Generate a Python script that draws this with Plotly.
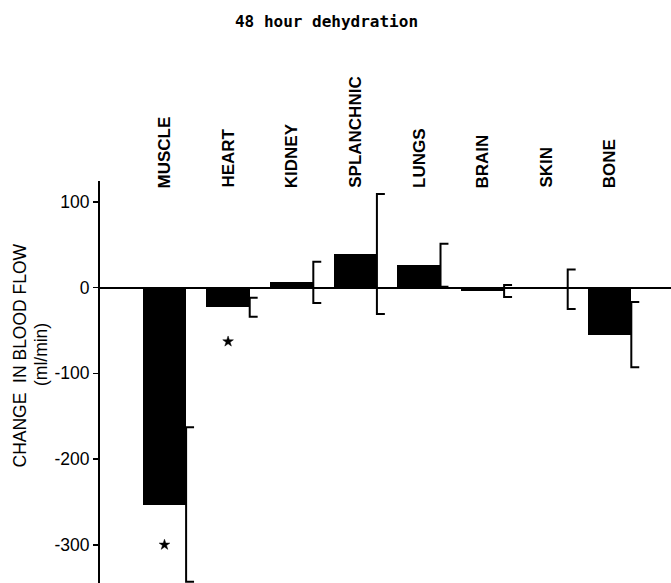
import plotly.graph_objects as go

# ---- data ----
categories = ["MUSCLE", "HEART", "KIDNEY", "SPLANCHNIC", "LUNGS", "BRAIN", "SKIN", "BONE"]
mean_change = [-253, -23, 6, 39, 26, -4, -2, -55]      # ml/min
sem_change = [90, 11, 24, 70, 25, 7, 23, 38]           # ml/min
sig_categories = ["MUSCLE", "HEART"]
sig_marker_y = [-300, -63]
y_tick_values = [100, 0, -100, -200, -300]
y_tick_labels = ["100", "0", "-100", "-200", "-300"]

# ---- layout constants ----
W, H = 671, 583
M_L, M_R, M_T, M_B = 100, 0, 181, 0
BAR_W = 0.68
CAP = 0.125
FONT = "Liberation Sans, Arial, sans-serif"
WEIGHT = 600

idx = list(range(len(categories)))

fig = go.Figure()

fig.add_trace(go.Bar(
    x=idx, y=mean_change, width=BAR_W,
    marker=dict(color="black", line=dict(width=0)),
    hoverinfo="skip", showlegend=False,
))

# right-sided bracket error bars at each bar's right edge
ex, ey = [], []
for i, m, s in zip(idx, mean_change, sem_change):
    xr = i + BAR_W / 2
    ex += [xr + CAP, xr, xr, xr + CAP, None]
    ey += [m + s, m + s, m - s, m - s, None]
fig.add_trace(go.Scatter(
    x=ex, y=ey, mode="lines",
    line=dict(color="black", width=2),
    hoverinfo="skip", showlegend=False,
))

# significance markers
fig.add_trace(go.Scatter(
    x=[categories.index(c) for c in sig_categories], y=sig_marker_y,
    mode="markers",
    marker=dict(symbol="star", size=8, color="black", line=dict(width=0.5, color="black")),
    hoverinfo="skip", showlegend=False,
))

plot_w = W - M_L - M_R
plot_h = H - M_T - M_B

annotations = []
for i, c in zip(idx, categories):
    annotations.append(dict(
        x=i, xref="x", y=1, yref="paper", yshift=-9,
        text=c, showarrow=False, textangle=-90,
        xanchor="center", yanchor="bottom",
        font=dict(family=FONT, size=17, color="black", weight=WEIGHT),
    ))

annotations.append(dict(
    x=(19.5 - M_L) / plot_w, xref="paper",
    y=(H - 356 - M_B) / plot_h, yref="paper",
    text="CHANGE  IN BLOOD FLOW", showarrow=False, textangle=-90,
    xanchor="center", yanchor="middle",
    font=dict(family=FONT, size=17.5, color="black"),
))
annotations.append(dict(
    x=(41 - M_L) / plot_w, xref="paper",
    y=(H - 355 - M_B) / plot_h, yref="paper",
    text="(ml/min)", showarrow=False, textangle=-90,
    xanchor="center", yanchor="middle",
    font=dict(family=FONT, size=17.5, color="black"),
))

fig.update_layout(
    width=W, height=H,
    margin=dict(l=M_L, r=M_R, t=M_T, b=M_B, pad=0),
    paper_bgcolor="white", plot_bgcolor="white",
    title=dict(
        text="48 hour dehydration",
        x=326.5 / W, xref="container", xanchor="center",
        y=1 - 21.5 / H, yref="container", yanchor="middle",
        font=dict(family="DejaVu Sans Mono, monospace", size=16, color="black", weight="bold"),
    ),
    xaxis=dict(
        range=[-1.014, 7.964], visible=False, fixedrange=True,
    ),
    yaxis=dict(
        range=[-344.5, 124.2],
        showgrid=False,
        zeroline=True, zerolinecolor="black", zerolinewidth=2,
        showline=True, linecolor="black", linewidth=2,
        ticks="outside", ticklen=5, tickwidth=1.5, tickcolor="black",
        tickvals=y_tick_values, ticktext=y_tick_labels,
        tickfont=dict(family=FONT, size=17.5, color="black"),
    ),
    annotations=annotations,
    bargap=0,
)

fig.write_html(
    "out.html",
    config={"displayModeBar": False, "staticPlot": True},
    post_script="document.body.style.margin='0';document.body.style.padding='0';",
)
